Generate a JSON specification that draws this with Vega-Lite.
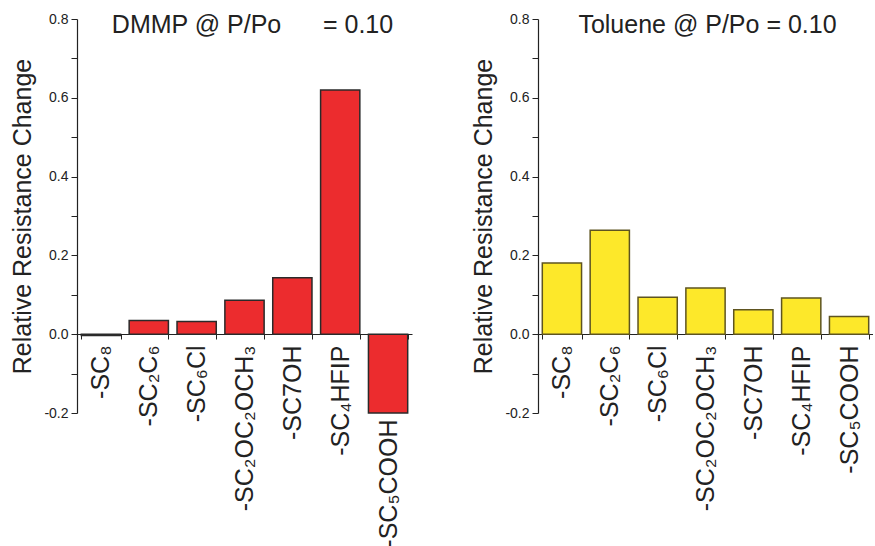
{
  "$schema": "https://vega.github.io/schema/vega-lite/v6.json",
  "padding": {"left": 10, "top": 12, "right": 0, "bottom": 0},
  "background": "white",
  "config": {
    "font": "Liberation Sans",
    "view": {"stroke": null},
    "concat": {"spacing": 59},
    "axis": {"domainColor": "#222", "tickColor": "#222", "labelColor": "#222", "titleColor": "#222", "grid": false, "domainWidth": 1.2, "tickWidth": 1}
  },
  "datasets": {
    "dmmp": [
      {"ligand": "-SC₈", "change": -0.003},
      {"ligand": "-SC₂C₆", "change": 0.035},
      {"ligand": "-SC₆Cl", "change": 0.032},
      {"ligand": "-SC₂OC₂OCH₃", "change": 0.086},
      {"ligand": "-SC7OH", "change": 0.143},
      {"ligand": "-SC₄HFIP", "change": 0.62},
      {"ligand": "-SC₅COOH", "change": -0.2}
    ],
    "toluene": [
      {"ligand": "-SC₈", "change": 0.181},
      {"ligand": "-SC₂C₆", "change": 0.264},
      {"ligand": "-SC₆Cl", "change": 0.094},
      {"ligand": "-SC₂OC₂OCH₃", "change": 0.117},
      {"ligand": "-SC7OH", "change": 0.062},
      {"ligand": "-SC₄HFIP", "change": 0.092},
      {"ligand": "-SC₅COOH", "change": 0.045}
    ]
  },
  "hconcat": [
    {
      "width": 335,
      "height": 394,
      "data": {"name": "dmmp"},
      "title": {"text": "DMMP @ P/Po\u00a0\u00a0\u00a0\u00a0\u00a0\u00a0= 0.10", "fontSize": 25, "fontWeight": "normal", "color": "#222", "baseline": "alphabetic", "offset": -46, "anchor": "middle", "dx": 8},
      "mark": {"type": "bar", "color": "#EC2C2E", "stroke": "#2a2a2a", "strokeWidth": 1.5},
      "encoding": {
        "x": {
          "field": "ligand", "type": "nominal",
          "sort": ["-SC₈", "-SC₂C₆", "-SC₆Cl", "-SC₂OC₂OCH₃", "-SC7OH", "-SC₄HFIP", "-SC₅COOH"],
          "scale": {"paddingInner": 0.18, "paddingOuter": 0.09},
          "axis": {"title": null, "offset": -79, "labelAngle": -90, "labelAlign": "right", "labelBaseline": "middle", "labelFontSize": 25, "labelPadding": {"condition": {"test": "datum.value === '-SC₅COOH'", "value": 80}, "value": 6}, "tickSize": 5, "tickBand": "extent", "labelOverlap": false}
        },
        "y": {
          "field": "change", "type": "quantitative",
          "scale": {"domain": [-0.2, 0.8], "nice": false},
          "axis": {"title": "Relative Resistance Change", "titleFontSize": 25, "titleFontWeight": "normal", "titlePadding": 8, "values": [-0.2, -0.1, 0, 0.1, 0.2, 0.3, 0.4, 0.5, 0.6, 0.7, 0.8], "labelExpr": "abs(round(datum.value*10)) % 2 == 0 ? (datum.value < 0 ? '-' + format(abs(datum.value), '.1f') : format(datum.value, '.1f')) : ''", "labelFontSize": 14, "tickSize": 6, "labelPadding": 3}
        }
      }
    },
    {
      "width": 335,
      "height": 394,
      "data": {"name": "toluene"},
      "title": {"text": "Toluene @ P/Po = 0.10", "fontSize": 25, "fontWeight": "normal", "color": "#222", "baseline": "alphabetic", "offset": -46, "anchor": "middle", "dx": 2},
      "mark": {"type": "bar", "color": "#FDE82A", "stroke": "#5e5420", "strokeWidth": 1.5},
      "encoding": {
        "x": {
          "field": "ligand", "type": "nominal",
          "sort": ["-SC₈", "-SC₂C₆", "-SC₆Cl", "-SC₂OC₂OCH₃", "-SC7OH", "-SC₄HFIP", "-SC₅COOH"],
          "scale": {"paddingInner": 0.18, "paddingOuter": 0.09},
          "axis": {"title": null, "offset": -79, "labelAngle": -90, "labelAlign": "right", "labelBaseline": "middle", "labelFontSize": 25, "labelPadding": 6, "tickSize": 5, "tickBand": "extent", "labelOverlap": false}
        },
        "y": {
          "field": "change", "type": "quantitative",
          "scale": {"domain": [-0.2, 0.8], "nice": false},
          "axis": {"title": "Relative Resistance Change", "titleFontSize": 25, "titleFontWeight": "normal", "titlePadding": 8, "values": [-0.2, -0.1, 0, 0.1, 0.2, 0.3, 0.4, 0.5, 0.6, 0.7, 0.8], "labelExpr": "abs(round(datum.value*10)) % 2 == 0 ? (datum.value < 0 ? '-' + format(abs(datum.value), '.1f') : format(datum.value, '.1f')) : ''", "labelFontSize": 14, "tickSize": 6, "labelPadding": 3}
        }
      }
    }
  ]
}
